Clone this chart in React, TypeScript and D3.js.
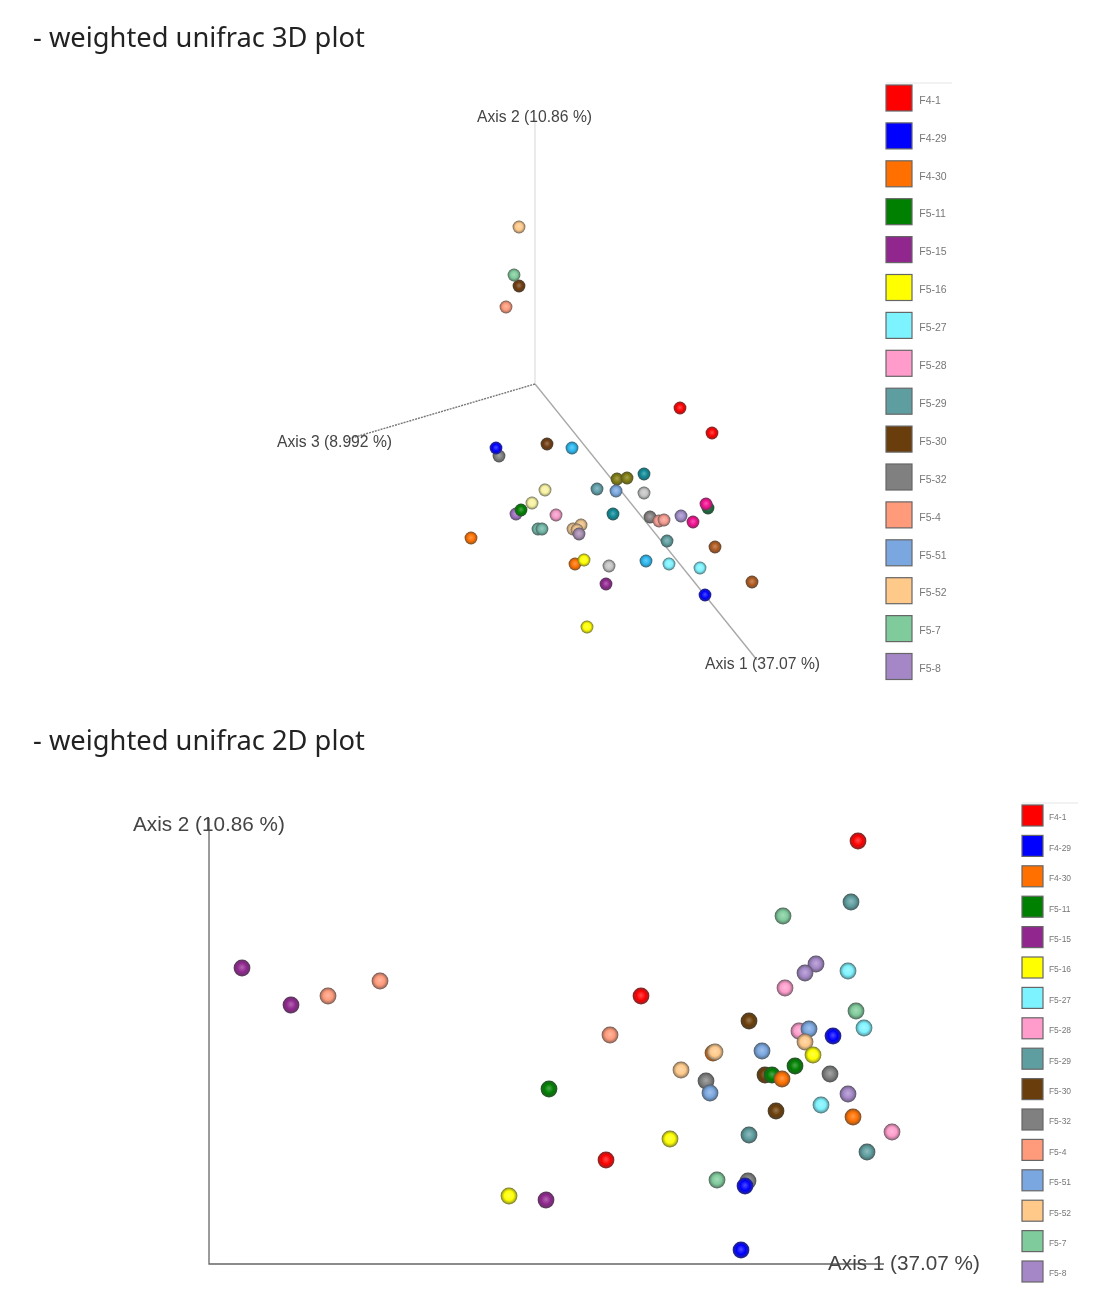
import React, { useEffect, useRef } from 'react';
import * as d3 from 'd3';

const sampleNames = ['F4-1', 'F4-29', 'F4-30', 'F5-11', 'F5-15', 'F5-16', 'F5-27', 'F5-28', 'F5-29', 'F5-30', 'F5-32', 'F5-4', 'F5-51', 'F5-52', 'F5-7', 'F5-8'];
const sampleColours = ['#ff0000', '#0000ff', '#ff7000', '#008000', '#91278f', '#ffff00', '#7df3ff', '#ff9ccb', '#5f9ea0', '#6b3e08', '#808080', '#ff9a7a', '#7aa7e0', '#ffc98a', '#7fcb9b', '#a587c8'];

// 2D plot scores, one row per sample
const axis1Scores = [
  [0.158, -0.059, -0.094], [0.133, 0.045, 0.041], [0.013, 0.082, 0.153], [-0.151, 0.095, 0.072],
  [-0.458, -0.409, -0.154], [0.113, -0.03, -0.191], [0.148, 0.164, 0.121], [0.085, 0.099, 0.192],
  [0.151, 0.049, 0.167], [0.049, 0.065, 0.076], [0.006, 0.13, 0.048], [-0.372, -0.32, -0.09],
  [0.109, 0.062, 0.01], [0.015, -0.019, 0.105], [0.083, 0.156, 0.017], [0.116, 0.105, 0.148],
];
const axis2Scores = [
  [0.209, 0.054, -0.11], [0.014, -0.136, -0.2], [-0.003, -0.029, -0.067], [-0.039, -0.016, -0.025],
  [0.082, 0.045, -0.15], [-0.005, -0.089, -0.146], [0.079, 0.022, -0.055], [0.062, 0.019, -0.082],
  [0.148, -0.085, -0.102], [0.029, -0.025, -0.061], [-0.031, -0.024, -0.131], [0.054, 0.069, 0.015],
  [0.021, -0.001, -0.043], [-0.002, -0.02, 0.008], [0.134, 0.039, -0.13], [0.086, 0.077, -0.044],
];
// which samples sit behind which where spheres overlap
const drawOrder2d = [10, 9, 3, 2, 0, 1, 7, 12, 13, 5, 4, 6, 8, 11, 14, 15];

// 3D plot: the sphere colours after the viewer's depth shading, with their projected scores
const shadedColours = ['#6f3a10', '#ff0000', '#7d7f7f', '#0000ff', '#2bb8ef', '#7f7a10', '#0f8a96', '#c4c4c4', '#5f9ea8', '#7aa7e0', '#f7f2a0', '#a06fc0', '#008000', '#f59ac8', '#6fb5a5', '#ecc08a', '#a78bb0', '#ff7000', '#ffff00', '#91278f', '#858080', '#f59a8e', '#a08cc8', '#1a6a3a', '#f0108f', '#5f9ea0', '#b05a20', '#7df3ff', '#ffc98a', '#7fcb9b', '#ff9a7a'];
const projectedX = [
  [0.012, -0.016], [0.145, 0.177], [-0.036], [-0.039, 0.17], [0.037, 0.111], [0.082, 0.092], [0.109, 0.078],
  [0.109, 0.074], [0.062], [0.081], [0.01, -0.003], [-0.019], [-0.014], [0.021], [0.003, 0.007],
  [0.038, 0.046, 0.042], [0.044], [-0.064, 0.04], [0.049, 0.052], [0.071], [0.115], [0.124, 0.129], [0.146], [0.173],
  [0.171, 0.158], [0.132], [0.18, 0.217], [0.134, 0.165], [-0.016], [-0.021], [-0.029],
];
const projectedY = [
  [-0.06, 0.098], [-0.024, -0.049], [-0.072], [-0.064, -0.211], [-0.064, -0.177], [-0.095, -0.094], [-0.09, -0.13],
  [-0.109, -0.182], [-0.105], [-0.107], [-0.106, -0.119], [-0.13], [-0.126], [-0.131], [-0.145, -0.145],
  [-0.145, -0.141, -0.146], [-0.15], [-0.154, -0.18], [-0.176, -0.243], [-0.2], [-0.133], [-0.137, -0.136], [-0.132], [-0.124],
  [-0.12, -0.138], [-0.157], [-0.163, -0.198], [-0.18, -0.184], [0.157], [0.109], [0.077],
];

const axisEnds3d = [
  { x: 0.222, y: -0.276, stroke: '#a8a8a8', dash: '' },
  { x: 0, y: 0.266, stroke: '#e2e2e2', dash: '' },
  { x: -0.19, y: -0.056, stroke: '#777777', dash: '2 1' },
];

const Sphere = (sel: d3.Selection<any, any, any, any>, id: string, colour: string) => {
  const grad = sel.append('radialGradient').attr('id', id)
    .attr('cx', '50%').attr('cy', '50%').attr('r', '50%').attr('fx', '50%').attr('fy', '45%');
  grad.append('stop').attr('offset', '0%').attr('stop-color', d3.interpolateRgb(colour, '#ffffff')(0.3));
  grad.append('stop').attr('offset', '55%').attr('stop-color', colour);
  grad.append('stop').attr('offset', '78%').attr('stop-color', d3.interpolateRgb(colour, '#3c4040')(0.3));
  grad.append('stop').attr('offset', '100%').attr('stop-color', d3.interpolateRgb(colour, '#3c4040')(0.75));
};

const App = () => {
  const svgRef = useRef<SVGSVGElement | null>(null);

  useEffect(() => {
    if (!svgRef.current) return;
    const svg = d3.select(svgRef.current);
    svg.selectAll('*').remove();
    const defs = svg.append('defs');

    const soft = defs.append('filter').attr('id', 'soft').attr('x', '-5%').attr('y', '-5%').attr('width', '110%').attr('height', '110%');
    soft.append('feGaussianBlur').attr('stdDeviation', 0.5);

    sampleColours.forEach((c, i) => Sphere(defs, `legend-sphere-${i}`, c));
    shadedColours.forEach((c, i) => Sphere(defs, `shaded-sphere-${i}`, c));

    const root = svg.append('g').attr('filter', 'url(#soft)');

    // ! TITLES
    root.selectAll('.title')
      .data([{ t: '- weighted unifrac 3D plot', y: 47 }, { t: '- weighted unifrac 2D plot', y: 750 }])
      .enter().append('text')
      .attr('x', 33)
      .attr('y', d => d.y)
      .attr('font-family', '"Noto Sans", sans-serif')
      .attr('font-size', 27.3)
      .attr('fill', '#222')
      .text(d => d.t);

    // ! 3D PLOT
    const x3 = d3.scaleLinear().domain([-0.5, 0.5]).range([35, 1035]);
    const y3 = d3.scaleLinear().domain([-0.5, 0.5]).range([884, -116]);

    root.selectAll('.axis3')
      .data(axisEnds3d)
      .enter().append('line')
      .attr('x1', x3(0)).attr('y1', y3(0))
      .attr('x2', d => x3(d.x)).attr('y2', d => y3(d.y))
      .attr('stroke', d => d.stroke)
      .attr('stroke-width', 1.4)
      .attr('stroke-dasharray', d => d.dash);

    const points3 = shadedColours.flatMap((_, i) =>
      projectedX[i].map((x, j) => ({ x, y: projectedY[i][j], i })));
    root.selectAll('.pt3')
      .data(points3)
      .enter().append('circle')
      .attr('cx', d => x3(d.x))
      .attr('cy', d => y3(d.y))
      .attr('r', 6.4)
      .attr('fill', d => `url(#shaded-sphere-${d.i})`);

    root.selectAll('.lab3')
      .data([
        { t: 'Axis 2 (10.86 %)', x: 477, y: 122 },
        { t: 'Axis 3 (8.992 %)', x: 277, y: 447 },
        { t: 'Axis 1 (37.07 %)', x: 705, y: 669 },
      ])
      .enter().append('text')
      .attr('x', d => d.x).attr('y', d => d.y)
      .attr('font-family', '"Liberation Sans", sans-serif')
      .attr('font-size', 15.7)
      .attr('fill', '#444')
      .text(d => d.t);

    // ! 2D PLOT
    const x2 = d3.scaleLinear().domain([-0.5, 0.5]).range([200, 1200]);
    const y2 = d3.scaleLinear().domain([-0.5, 0.5]).range([1550, 550]);

    root.append('path')
      .attr('d', d3.line()([[x2(-0.491), y2(0.232)], [x2(-0.491), y2(-0.214)], [x2(0.184), y2(-0.214)]]))
      .attr('fill', 'none')
      .attr('stroke', '#666')
      .attr('stroke-width', 1.3);

    const points2 = drawOrder2d.flatMap(i =>
      axis1Scores[i].map((x, j) => ({ x, y: axis2Scores[i][j], i })));
    root.selectAll('.pt2')
      .data(points2)
      .enter().append('circle')
      .attr('cx', d => x2(d.x))
      .attr('cy', d => y2(d.y))
      .attr('r', 8.4)
      .attr('fill', d => `url(#legend-sphere-${d.i})`);

    root.selectAll('.lab2')
      .data([
        { t: 'Axis 2 (10.86 %)', x: 133, y: 831 },
        { t: 'Axis 1 (37.07 %)', x: 828, y: 1270 },
      ])
      .enter().append('text')
      .attr('x', d => d.x).attr('y', d => d.y)
      .attr('font-family', '"Liberation Sans", sans-serif')
      .attr('font-size', 20.7)
      .attr('fill', '#444')
      .text(d => d.t);

    // ! LEGENDS
    const drawLegend = (left: number, top: number, step: number, size: number, fontSize: number, ruleWidth: number) => {
      const rowY = d3.scaleLinear().domain([0, 1]).range([top, top + step]);
      const g = root.append('g');
      g.append('line')
        .attr('x1', left).attr('x2', left + ruleWidth)
        .attr('y1', top - 2).attr('y2', top - 2)
        .attr('stroke', '#e6e6e6');
      const row = g.selectAll('.row')
        .data(sampleNames)
        .enter().append('g')
        .attr('transform', (_, i) => `translate(${left},${rowY(i)})`);
      row.append('rect')
        .attr('width', size).attr('height', size)
        .attr('fill', (_, i) => sampleColours[i])
        .attr('stroke', '#666')
        .attr('stroke-width', 1.2);
      row.append('text')
        .attr('x', size + size * 0.28)
        .attr('y', size / 2 + fontSize * 0.45 + 1)
        .attr('font-family', '"Liberation Sans", sans-serif')
        .attr('font-size', fontSize)
        .attr('fill', '#777')
        .text(d => d);
    };
    drawLegend(886, 85, 37.9, 26, 10.5, 66);
    drawLegend(1022, 805, 30.4, 21, 8.5, 56);
  }, []);

  return <svg ref={svgRef} width={1105} height={1311} style={{ position: 'absolute', left: 0, top: 0, background: '#fff' }}></svg>;
};

export default App;
